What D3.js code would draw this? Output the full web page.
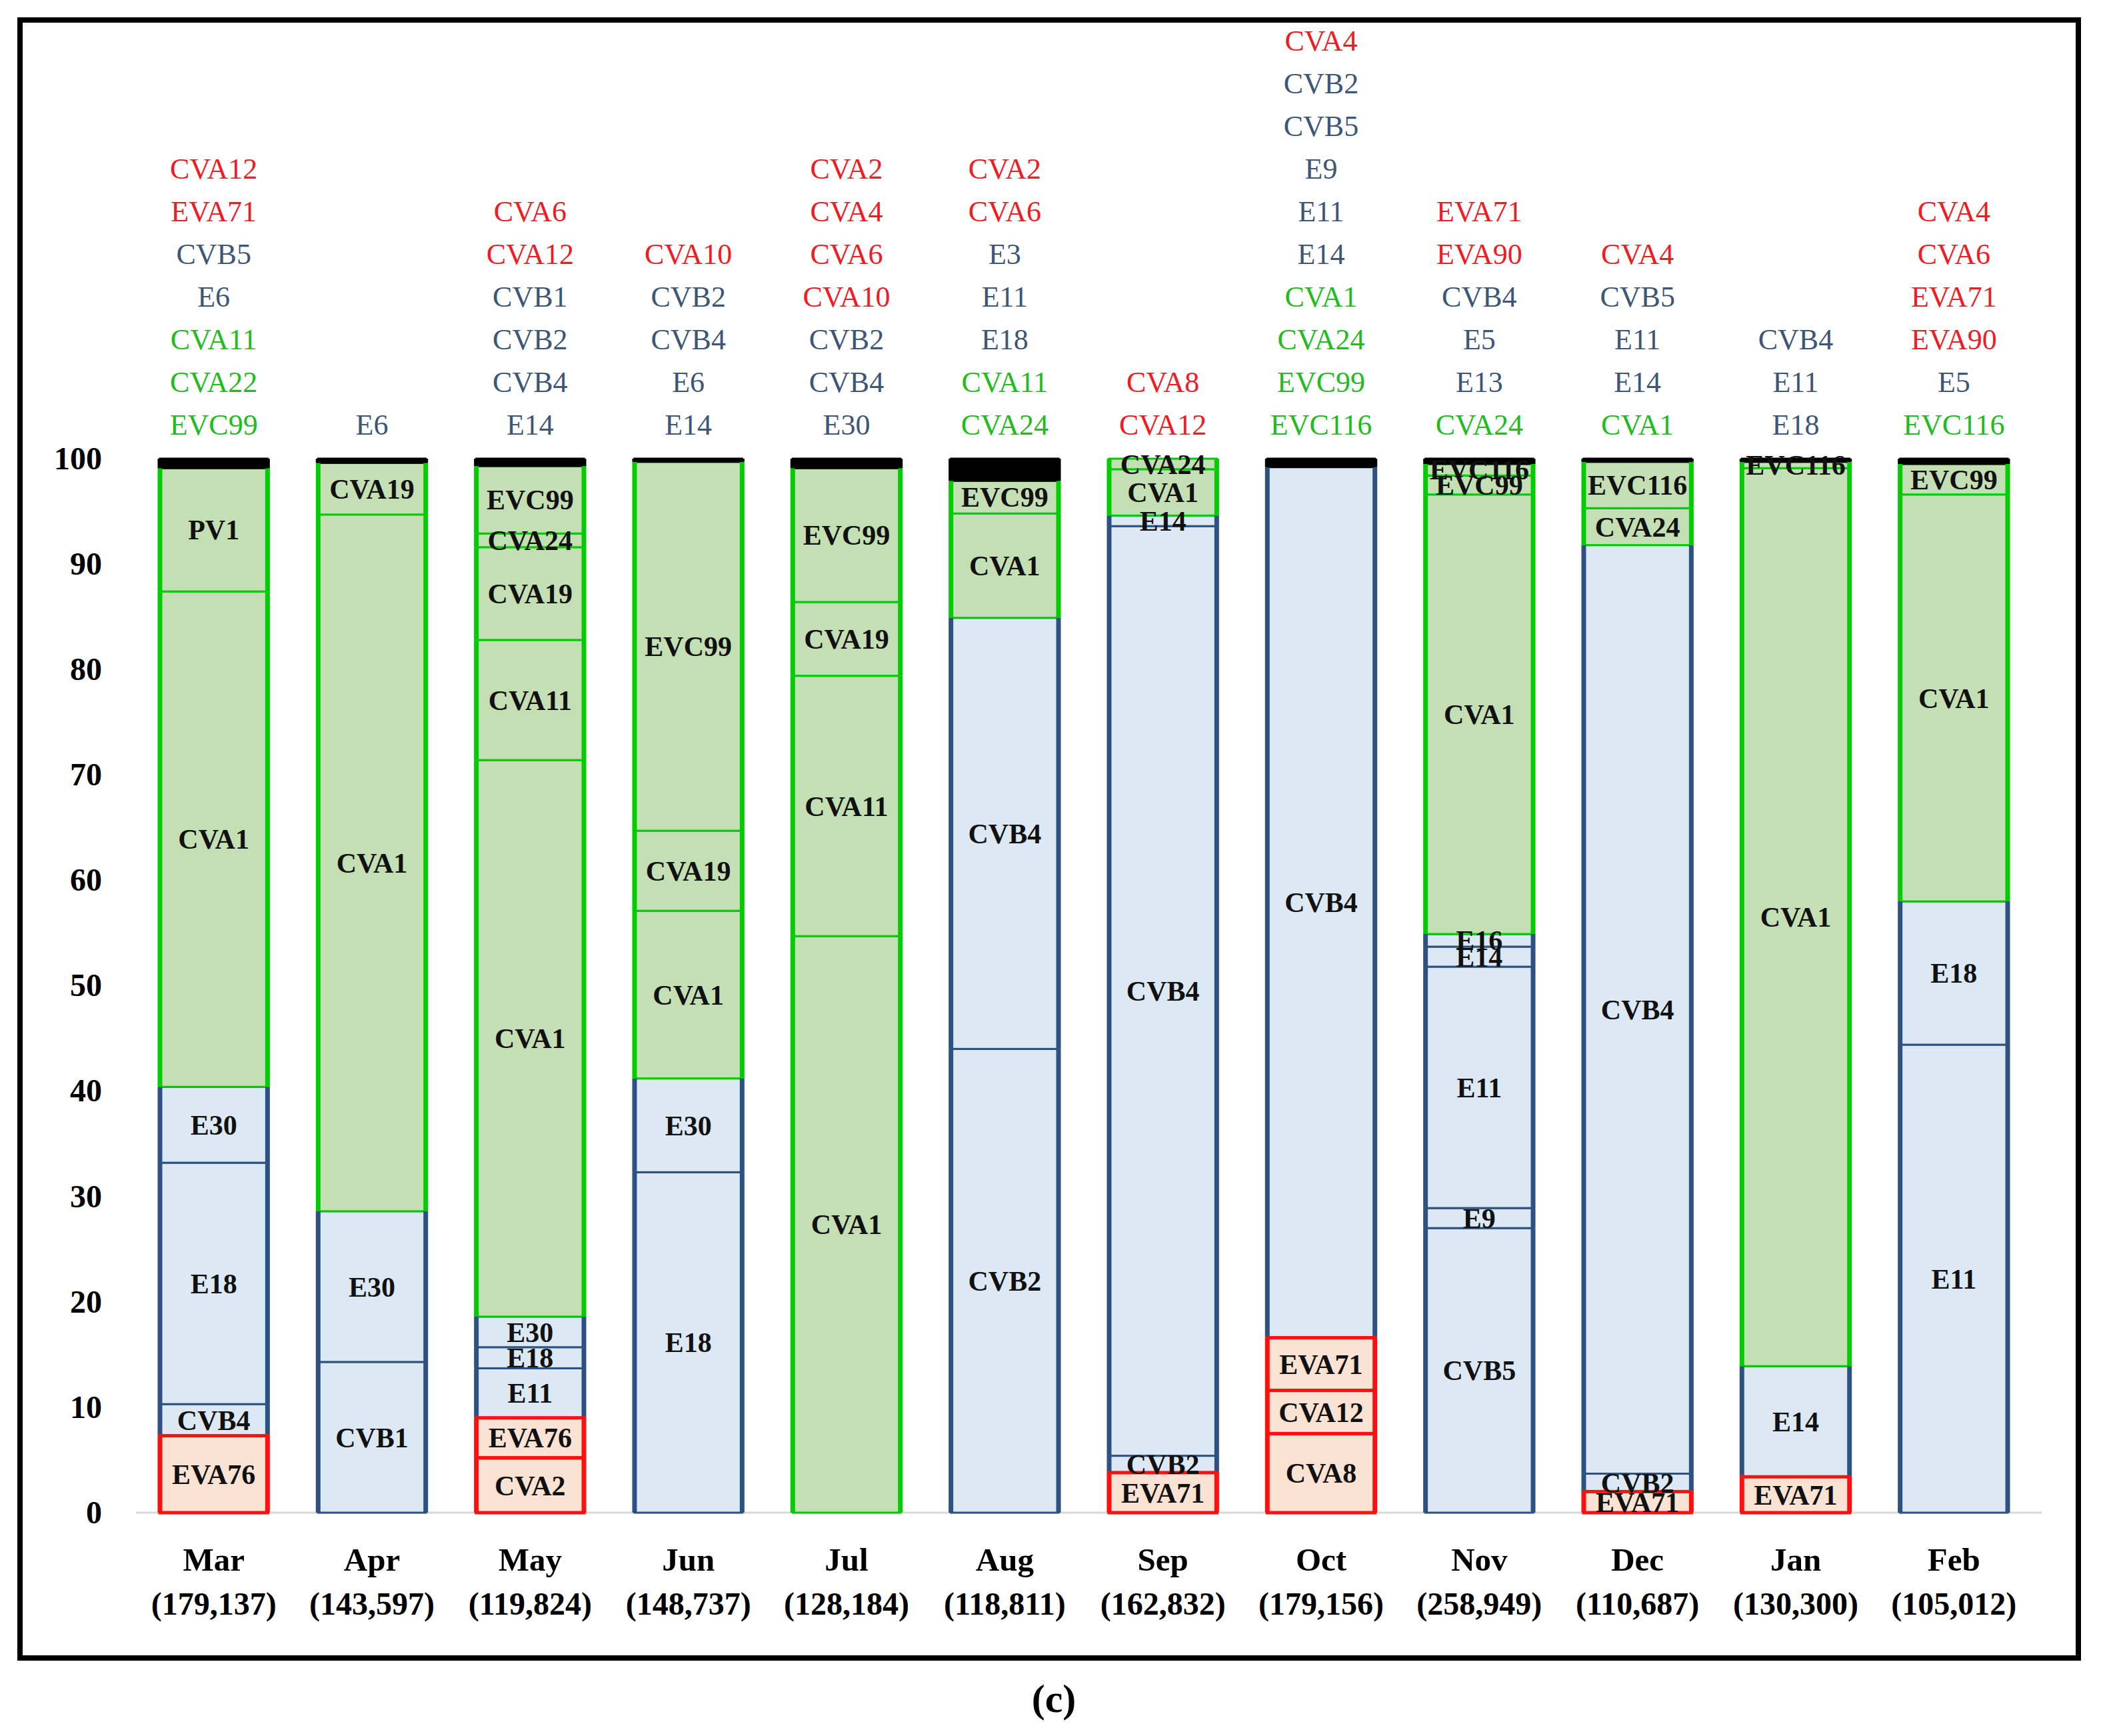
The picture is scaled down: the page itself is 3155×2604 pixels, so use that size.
<!DOCTYPE html>
<html>
<head>
<meta charset="utf-8">
<script src="https://cdn.jsdelivr.net/npm/d3@7"></script>
<style>
  body { margin: 0; background: #fff; }
  text { font-family: "Liberation Serif", "DejaVu Serif", serif; }
</style>
</head>
<body>
<script>
var width = 3155, height = 2604;

// months and sample counts
var months = ["Mar", "Apr", "May", "Jun", "Jul", "Aug", "Sep", "Oct", "Nov", "Dec", "Jan", "Feb"];
var counts = ["(179,137)", "(143,597)", "(119,824)", "(148,737)", "(128,184)", "(118,811)",
              "(162,832)", "(179,156)", "(258,949)", "(110,687)", "(130,300)", "(105,012)"];
var yTicks = [0, 10, 20, 30, 40, 50, 60, 70, 80, 90, 100];

// species groups (A red, B blue, C green)
var speciesA = ["CVA2", "CVA4", "CVA6", "CVA8", "CVA10", "CVA12", "EVA71", "EVA76", "EVA90"];
var speciesC = ["CVA1", "CVA11", "CVA19", "CVA22", "CVA24", "EVC99", "EVC116", "PV1"];

// stacked segments, bottom to top: [type, percent]; "other" = black top part
var marSeg = [["EVA76", 7.3], ["CVB4", 3.0], ["E18", 22.9], ["E30", 7.2], ["CVA1", 47.0], ["PV1", 11.7], ["other", 0.9]];
var aprSeg = [["CVB1", 14.3], ["E30", 14.3], ["CVA1", 66.1], ["CVA19", 4.9], ["other", 0.4]];
var maySeg = [["CVA2", 5.2], ["EVA76", 3.8], ["E11", 4.7], ["E18", 2.0], ["E30", 2.9], ["CVA1", 52.8], ["CVA11", 11.4], ["CVA19", 8.8], ["CVA24", 1.3], ["EVC99", 6.4], ["other", 0.7]];
var junSeg = [["E18", 32.3], ["E30", 8.9], ["CVA1", 15.9], ["CVA19", 7.6], ["EVC99", 35.0], ["other", 0.3]];
var julSeg = [["CVA1", 54.7], ["CVA11", 24.7], ["CVA19", 7.0], ["EVC99", 12.7], ["other", 0.9]];
var augSeg = [["CVB2", 44.0], ["CVB4", 40.9], ["CVA1", 9.9], ["EVC99", 3.1], ["other", 2.1]];
var sepSeg = [["EVA71", 3.8], ["CVB2", 1.6], ["CVB4", 88.2], ["E14", 1.0], ["CVA1", 4.4], ["CVA24", 1.0]];
var octSeg = [["CVA8", 7.5], ["CVA12", 4.1], ["EVA71", 5.0], ["CVB4", 82.6], ["other", 0.8]];
var novSeg = [["CVB5", 27.0], ["E9", 1.9], ["E11", 22.9], ["E14", 1.9], ["E16", 1.2], ["CVA1", 41.7], ["EVC99", 1.8], ["EVC116", 1.1], ["other", 0.5]];
var decSeg = [["EVA71", 2.0], ["CVB2", 1.7], ["CVB4", 88.1], ["CVA24", 3.5], ["EVC116", 4.4], ["other", 0.3]];
var janSeg = [["EVA71", 3.4], ["E14", 10.5], ["CVA1", 85.2], ["EVC116", 0.6], ["other", 0.3]];
var febSeg = [["E11", 44.4], ["E18", 13.6], ["CVA1", 38.6], ["EVC99", 2.9], ["other", 0.5]];
var stacks = [marSeg, aprSeg, maySeg, junSeg, julSeg, augSeg, sepSeg, octSeg, novSeg, decSeg, janSeg, febSeg];

// types listed above each bar, top to bottom
var marTop = ["CVA12", "EVA71", "CVB5", "E6", "CVA11", "CVA22", "EVC99"];
var aprTop = ["E6"];
var mayTop = ["CVA6", "CVA12", "CVB1", "CVB2", "CVB4", "E14"];
var junTop = ["CVA10", "CVB2", "CVB4", "E6", "E14"];
var julTop = ["CVA2", "CVA4", "CVA6", "CVA10", "CVB2", "CVB4", "E30"];
var augTop = ["CVA2", "CVA6", "E3", "E11", "E18", "CVA11", "CVA24"];
var sepTop = ["CVA8", "CVA12"];
var octTop = ["CVA4", "CVB2", "CVB5", "E9", "E11", "E14", "CVA1", "CVA24", "EVC99", "EVC116"];
var novTop = ["EVA71", "EVA90", "CVB4", "E5", "E13", "CVA24"];
var decTop = ["CVA4", "CVB5", "E11", "E14", "CVA1"];
var janTop = ["CVB4", "E11", "E18"];
var febTop = ["CVA4", "CVA6", "EVA71", "EVA90", "E5", "EVC116"];
var topLists = [marTop, aprTop, mayTop, junTop, julTop, augTop, sepTop, octTop, novTop, decTop, janTop, febTop];

function species(t) {
  if (t == "other") return "X";
  if (speciesA.indexOf(t) >= 0) return "A";
  if (speciesC.indexOf(t) >= 0) return "C";
  return "B";
}
var fillCol = { A: "#fbe3d4", B: "#dce9f5", C: "#c5dfb4", X: "#000000" };
var lineCol = { A: "#ff1010", B: "#2d5282", C: "#00cc00", X: "#000000" };
var textCol = { A: "#ee1c25", B: "#3e5676", C: "#22bb22" };

var svg = d3.select("body").append("svg")
    .attr("width", width)
    .attr("height", height)
    .style("background", "#fff");

var x = d3.scaleBand()
    .domain(months)
    .range([202, 3050])
    .paddingInner(0.32)
    .paddingOuter(0.16);

var y = d3.scaleLinear()
    .domain([0, 100])
    .range([2269, 688]);

// frame
svg.append("rect")
    .attr("x", 30).attr("y", 30)
    .attr("width", 3088).attr("height", 2457)
    .attr("fill", "none")
    .attr("stroke", "#000")
    .attr("stroke-width", 8);

// baseline
svg.append("line")
    .attr("x1", 204).attr("x2", 3063)
    .attr("y1", y(0)).attr("y2", y(0))
    .attr("stroke", "#d9d9d9")
    .attr("stroke-width", 3);

// y axis
var yAxis = svg.append("g")
    .attr("transform", "translate(156,0)")
    .call(d3.axisLeft(y).tickValues(yTicks).tickSize(0).tickPadding(3));
yAxis.select(".domain").remove();
yAxis.selectAll("text")
    .attr("font-family", "Liberation Serif")
    .attr("font-weight", "bold")
    .attr("font-size", 48)
    .attr("fill", "#000");

// x axis (months) + counts
var xAxis = svg.append("g")
    .attr("transform", "translate(0," + y(0) + ")")
    .call(d3.axisBottom(x).tickSize(0).tickPadding(0));
xAxis.select(".domain").remove();
xAxis.selectAll("text")
    .attr("font-family", "Liberation Serif")
    .attr("font-weight", "bold")
    .attr("font-size", 49)
    .attr("fill", "#000")
    .attr("dy", null)
    .attr("y", 87);

svg.selectAll(".count")
    .data(months)
    .enter().append("text")
    .attr("class", "count")
    .attr("x", function(d) { return x(d) + x.bandwidth() / 2; })
    .attr("y", 2422)
    .attr("text-anchor", "middle")
    .attr("font-weight", "bold")
    .attr("font-size", 48)
    .text(function(d, i) { return counts[i]; });

// build segment records
var segs = [];
stacks.forEach(function(stack, i) {
  var base = 0;
  stack.forEach(function(s) {
    segs.push({ month: months[i], type: s[0], y0: base, y1: base + s[1], sp: species(s[0]) });
    base += s[1];
  });
});

var bw = x.bandwidth();
var barG = svg.append("g");

barG.selectAll(".seg")
    .data(segs)
    .enter().append("rect")
    .attr("class", "seg")
    .attr("x", function(d) { return x(d.month); })
    .attr("y", function(d) { return y(d.y1); })
    .attr("width", bw)
    .attr("height", function(d) { return y(d.y0) - y(d.y1); })
    .attr("fill", function(d) { return fillCol[d.sp]; })
    .attr("stroke", function(d) { return lineCol[d.sp]; })
    .attr("stroke-width", 3);

// thicker side edges
[0, 1].forEach(function(side) {
  barG.selectAll(".side" + side)
      .data(segs)
      .enter().append("line")
      .attr("x1", function(d) { return x(d.month) + side * bw; })
      .attr("x2", function(d) { return x(d.month) + side * bw; })
      .attr("y1", function(d) { return y(d.y1); })
      .attr("y2", function(d) { return y(d.y0); })
      .attr("stroke", function(d) { return lineCol[d.sp]; })
      .attr("stroke-width", 7);
});

// species A boxes get a heavier outline
barG.selectAll(".boxA")
    .data(segs.filter(function(d) { return d.sp == "A"; }))
    .enter().append("rect")
    .attr("class", "boxA")
    .attr("x", function(d) { return x(d.month); })
    .attr("y", function(d) { return y(d.y1); })
    .attr("width", bw)
    .attr("height", function(d) { return y(d.y0) - y(d.y1); })
    .attr("fill", "none")
    .attr("stroke", lineCol.A)
    .attr("stroke-width", 5);

// labels inside segments
barG.selectAll(".segLabel")
    .data(segs.filter(function(d) { return d.sp != "X"; }))
    .enter().append("text")
    .attr("class", "segLabel")
    .attr("x", function(d) { return x(d.month) + bw / 2; })
    .attr("y", function(d) { return y((d.y0 + d.y1) / 2); })
    .attr("dy", "0.35em")
    .attr("text-anchor", "middle")
    .attr("font-weight", "bold")
    .attr("font-size", 42)
    .attr("fill", "#111")
    .text(function(d) { return d.type; });

// type lists above bars
var tops = [];
topLists.forEach(function(list, i) {
  list.forEach(function(t, j) {
    tops.push({ month: months[i], type: t, row: list.length - 1 - j });
  });
});

svg.selectAll(".topLabel")
    .data(tops)
    .enter().append("text")
    .attr("class", "topLabel")
    .attr("x", function(d) { return x(d.month) + bw / 2; })
    .attr("y", function(d) { return 652 - d.row * 64; })
    .attr("text-anchor", "middle")
    .attr("font-size", 44)
    .attr("fill", function(d) { return textCol[species(d.type)]; })
    .text(function(d) { return d.type; });

// panel letter
svg.append("text")
    .attr("x", 1581)
    .attr("y", 2568)
    .attr("text-anchor", "middle")
    .attr("font-weight", "bold")
    .attr("font-size", 60)
    .text("(c)");
</script>
</body>
</html>
